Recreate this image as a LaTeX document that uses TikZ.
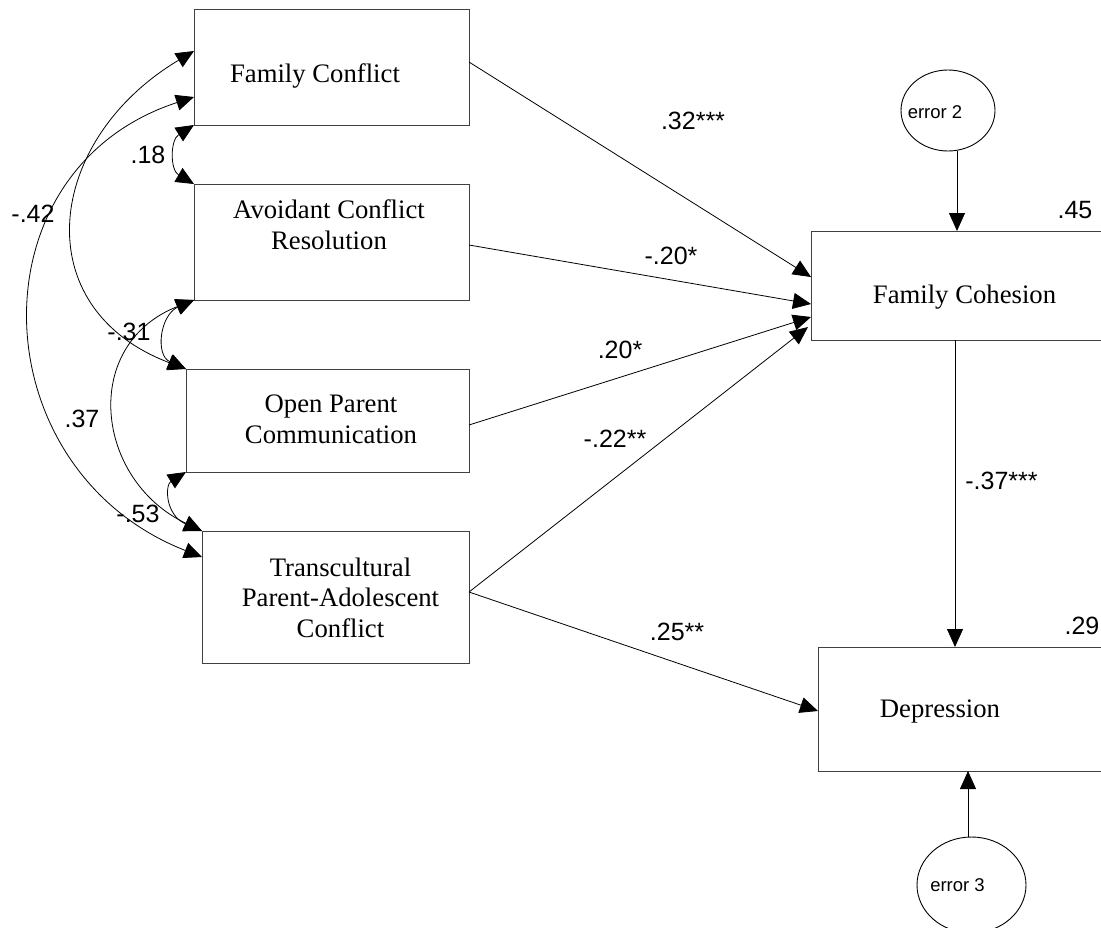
\documentclass[tikz,border=0pt]{standalone}
\usepackage{fontspec}
\setmainfont{Liberation Serif}
\newfontfamily\labelfont{Liberation Sans}
\usetikzlibrary{arrows.meta,shapes.geometric}

\begin{document}
\begin{tikzpicture}[x=1pt,y=-1pt,
  box/.style={draw=black!75, line width=1pt, rectangle, inner sep=0pt, outer sep=0pt},
  boxtext/.style={font=\fontsize{26.7}{30.5}\selectfont, align=center, anchor=base, inner sep=0pt},
  coef/.style={font=\labelfont\fontsize{25}{30}\selectfont, anchor=base, inner sep=0pt},
  err/.style={draw, ellipse, line width=0.9pt, inner sep=0pt, outer sep=0pt},
  errtext/.style={font=\labelfont\fontsize{18.5}{22}\selectfont, anchor=base, inner sep=0pt},
  tip/.tip={Triangle[length=18pt,width=16pt]},
  regr/.style={-tip, line width=0.8pt},
  cov/.style={tip-tip, line width=0.8pt}
]
\path[use as bounding box] (0,0) rectangle (1101,927);

% observed variables
\node[box, minimum width=275pt, minimum height=116pt] (fcbox) at (331.5,67) {};
\node[box, minimum width=275pt, minimum height=116pt] (avbox) at (331.5,242) {};
\node[box, minimum width=283pt, minimum height=103pt] (opbox) at (327.5,420.5) {};
\node[box, minimum width=267pt, minimum height=132pt] (trbox) at (335.5,597) {};
\node[box, minimum width=299pt, minimum height=109pt] (cohbox) at (960.5,285.5) {};
\node[box, minimum width=292pt, minimum height=124pt] (depbox) at (964,709) {};

% box labels (anchored at the baseline of their last line)
\node[boxtext] (fctext) at (315,82) {Family Conflict};
\node[boxtext] (avtext) at (329,249) {Avoidant Conflict\\Resolution};
\node[boxtext] (optext) at (331,443) {Open Parent\\Communication};
\node[boxtext] (trtext) at (340.5,637) {Transcultural\\Parent-Adolescent\\Conflict};
\node[boxtext] (cohtext) at (964.5,303) {Family Cohesion};
\node[boxtext] (deptext) at (940,717) {Depression};

% residuals
\node[err, minimum width=94pt, minimum height=81pt] (err2) at (948,110.5) {};
\node[err, minimum width=109pt, minimum height=96pt] (err3) at (971.5,885) {};
\node[errtext] (err2text) at (935,118) {error 2};
\node[errtext] (err3text) at (957.5,891) {error 3};

% regression paths
\draw[regr] ([yshift=5pt]fcbox.east) -- ([yshift=8.5pt]cohbox.west);
\draw[regr] ([yshift=-3pt]avbox.east) -- ([yshift=-18.5pt]cohbox.west);
\draw[regr] ([yshift=-4.5pt]opbox.east) -- ([yshift=-31.5pt]cohbox.west);
\draw[regr] ([yshift=5pt]trbox.east) -- ([xshift=-3pt,yshift=-41.5pt]cohbox.west);
\draw[regr] ([yshift=5pt]trbox.east) -- ([yshift=-2pt]depbox.west);
\draw[regr] ([xshift=9pt]err2.south) -- ([xshift=-3.5pt]cohbox.north);
\draw[regr] ([xshift=-5.5pt]cohbox.south) -- ([xshift=-9pt]depbox.north);
\draw[regr] ([xshift=-3.5pt]err3.north) -- ([xshift=4pt]depbox.south);

% correlations among the predictors
\draw[cov] (fcbox.south west) .. controls +(-24,15) and +(-24,-14) .. (avbox.north west);
\draw[cov] ([yshift=16pt]fcbox.west) .. controls +(-149,89) and +(-161,-61) .. (opbox.north west);
\draw[cov] ([yshift=-30pt]fcbox.west) .. controls +(-224,73) and +(-222,-87) .. ([yshift=40pt]trbox.west);
\draw[cov] (avbox.south west) .. controls +(-114,45) and +(-107,-51) .. (trbox.north west);
\draw[cov] (avbox.south west) .. controls +(-34,15) and +(-31,-14) .. (opbox.north west);
\draw[cov] (opbox.south west) .. controls +(-21,13) and +(-37,-16) .. (trbox.north west);

% coefficients
\node[coef] (b1) at (693,129) {.32***};
\node[coef] (b2) at (671,264) {-.20*};
\node[coef] (b3) at (620,358) {.20*};
\node[coef] (b4) at (615,447) {-.22**};
\node[coef] (b5) at (677,640) {.25**};
\node[coef] (b6) at (1001.5,489) {-.37***};
\node[coef] (r1) at (1075,218) {.45};
\node[coef] (r2) at (1082,634) {.29};
\node[coef] (k1) at (148,163) {.18};
\node[coef] (k2) at (33,222) {-.42};
\node[coef] (k3) at (129,340) {-.31};
\node[coef] (k4) at (82,427) {.37};
\node[coef] (k5) at (138,522) {-.53};
\end{tikzpicture}
\end{document}
